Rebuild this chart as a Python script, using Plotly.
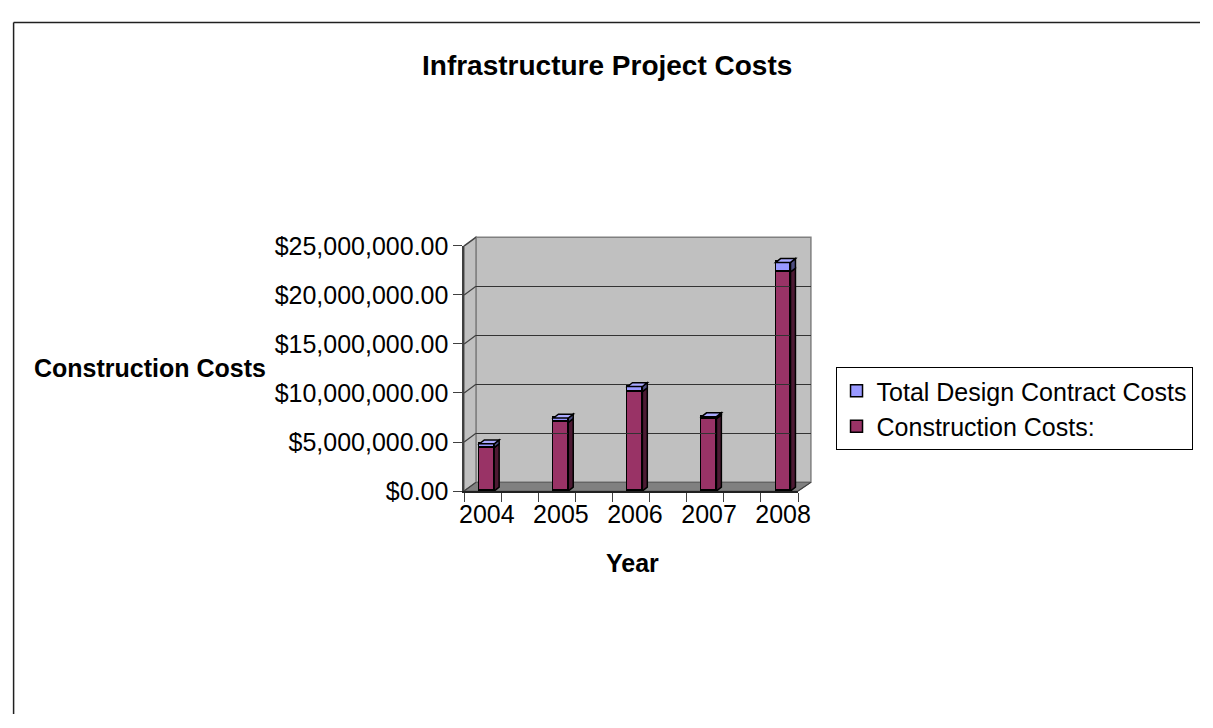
import plotly.graph_objects as go
import numpy as np

# ---------------- data ----------------
years = ["2004", "2005", "2006", "2007", "2008"]
construction_costs = [4430000, 7000000, 10140000, 7380000, 22340000]
design_costs = [390000, 450000, 520000, 200000, 980000]
y_ticks = [0, 5000000, 10000000, 15000000, 20000000, 25000000]

# page is offset by the 8px body margin; figure fills the rest of the window
OFF = 8
W, H = 1213 - OFF, 728 - OFF
FONT = "Liberation Sans, Arial, sans-serif"

# page-pixel geometry of the (pseudo-3D) plot
FX0, FX1 = 466, 805        # front plane x
FY0, FY1 = 496, 241        # front plane y (0 -> 25M)
DX, DY = 12, 9             # depth offset of back wall
BX1 = 818                  # back wall right edge
BY0 = 487                  # back wall floor line
px_per_cat = 75.2
first_center = 489
x_lo = (FX0 - first_center) / px_per_cat
x_hi = (FX1 - first_center) / px_per_cat
ymax = 25000000


def px(x):
    return (x - OFF) / W


def py(y):
    return 1 - (y - OFF) / H


xs = list(range(len(years)))
bar_w = 0.2

fig = go.Figure()
fig.add_trace(go.Bar(
    x=xs, y=construction_costs, name="Construction Costs:", width=bar_w,
    marker=dict(color="#993366", line=dict(color="black", width=1.5)),
    legendgroup="c", xaxis="x", yaxis="y", hoverinfo="y"))
fig.add_trace(go.Bar(
    x=xs, y=design_costs, name="Total Design Contract Costs", width=bar_w,
    marker=dict(color="#9999FF", line=dict(color="black", width=1.5)),
    legendgroup="d", xaxis="x", yaxis="y", hoverinfo="y"))

# invisible trace for the back-wall gridline subplot
fig.add_trace(go.Scatter(x=[0], y=[0], xaxis="x2", yaxis="y2", mode="markers",
                         marker=dict(opacity=0), showlegend=False, hoverinfo="skip"))

shapes = []
# back wall
shapes.append(dict(type="rect", xref="paper", yref="paper",
                   x0=px(FX0 + DX), x1=px(BX1), y0=py(BY0), y1=py(FY1 - DY),
                   fillcolor="#C0C0C0", line=dict(color="#808080", width=1.5), layer="below"))
# left side wall
shapes.append(dict(type="path", xref="paper", yref="paper",
                   path=f"M{px(FX0)},{py(FY0)} L{px(FX0)},{py(FY1)} L{px(FX0+DX)},{py(FY1-DY)} L{px(FX0+DX)},{py(BY0)} Z",
                   fillcolor="#C0C0C0", line=dict(color="#808080", width=1.5), layer="below"))
# floor
shapes.append(dict(type="path", xref="paper", yref="paper",
                   path=f"M{px(FX0)},{py(FY0)} L{px(FX0+DX)},{py(BY0)} L{px(BX1)},{py(BY0)} L{px(FX1)},{py(FY0)} Z",
                   fillcolor="#808080", line=dict(color="#606060", width=1), layer="below"))
# diagonal connectors from the front ticks to the back wall
for v in y_ticks:
    yy = FY0 - v / ymax * (FY0 - FY1)
    shapes.append(dict(type="line", xref="paper", yref="paper",
                       x0=px(FX0), y0=py(yy), x1=px(FX0 + DX), y1=py(yy - DY),
                       line=dict(color="#404040", width=1.2), layer="above"))
# right floor edge
shapes.append(dict(type="line", xref="paper", yref="paper",
                   x0=px(FX1), y0=py(FY0), x1=px(BX1), y1=py(BY0),
                   line=dict(color="#404040", width=1.2)))

# 3D side / top faces of the bars (data coordinates)
ddx = 5 / px_per_cat
ddy = 4 / ((FY0 - FY1) / ymax)
bottoms = [0] * len(xs)
for vals, side_col, top_col, is_top in [
        (construction_costs, "#4D1A33", "#993366", False),
        (design_costs, "#4D4D80", "#AAAAFF", True)]:
    for i, v in enumerate(vals):
        b = bottoms[i]
        t = b + v
        xr = xs[i] + bar_w / 2
        xl = xs[i] - bar_w / 2
        shapes.append(dict(type="path", xref="x", yref="y",
                           path=f"M{xr},{b} L{xr+ddx},{b+ddy} L{xr+ddx},{t+ddy} L{xr},{t} Z",
                           fillcolor=side_col, line=dict(color="black", width=1.5), layer="above"))
        if is_top:
            shapes.append(dict(type="path", xref="x", yref="y",
                               path=f"M{xl},{t} L{xl+ddx},{t+ddy} L{xr+ddx},{t+ddy} L{xr},{t} Z",
                               fillcolor=top_col, line=dict(color="black", width=1.5), layer="above"))
        bottoms[i] = t

# outer frame (as close to the window edge as the figure allows)
shapes.append(dict(type="line", xref="paper", yref="paper", x0=0.6 / W, y0=1 - 0.6 / H, x1=0.6 / W, y1=0,
                   line=dict(color="#202020", width=1.5)))
shapes.append(dict(type="line", xref="paper", yref="paper", x0=0.6 / W, y0=1 - 0.6 / H, x1=1, y1=1 - 0.6 / H,
                   line=dict(color="#202020", width=1.5)))

minor_ticks = list(np.linspace(x_lo, x_hi, 10))

fig.update_layout(
    width=W, height=H,
    margin=dict(l=0, r=0, t=0, b=0),
    paper_bgcolor="white",
    plot_bgcolor="rgba(0,0,0,0)",
    barmode="stack",
    bargap=0,
    font=dict(family=FONT, size=25, color="black"),
    showlegend=True,
    legend=dict(
        x=px(843), y=py(367), xanchor="left", yanchor="top",
        bgcolor="white", bordercolor="black", borderwidth=1,
        traceorder="reversed", tracegroupgap=19,
        font=dict(family=FONT, size=25, color="black"),
    ),
    xaxis=dict(
        domain=[px(FX0), px(FX1)], range=[x_lo, x_hi],
        tickmode="array", tickvals=xs, ticktext=years,
        ticks="", showgrid=False, zeroline=False,
        showline=True, linecolor="#202020", linewidth=1.5,
        tickfont=dict(size=25), anchor="y",
        minor=dict(tickmode="array", tickvals=minor_ticks, ticks="outside",
                   ticklen=9, tickcolor="#404040", tickwidth=1.2, showgrid=False),
    ),
    yaxis=dict(
        domain=[py(FY0), py(FY1)], range=[0, ymax],
        tickmode="array", tickvals=y_ticks, tickformat="$,.2f",
        ticks="outside", ticklen=9, tickcolor="#404040", tickwidth=1.2,
        showgrid=False, zeroline=False,
        showline=True, linecolor="#404040", linewidth=1.5,
        tickfont=dict(size=25), anchor="x",
    ),
    xaxis2=dict(domain=[px(FX0 + DX), px(BX1)], range=[0, 1], visible=False,
                anchor="y2", showgrid=False),
    yaxis2=dict(domain=[py(BY0), py(FY1 - DY)], range=[0, ymax], anchor="x2",
                tickmode="array", tickvals=y_ticks[1:-1], showticklabels=False,
                showgrid=True, gridcolor="#333333", gridwidth=1.3,
                zeroline=False, showline=False, ticks=""),
    shapes=shapes,
    annotations=[
        dict(text="<b>Infrastructure Project Costs</b>", x=px(611), y=py(53),
             xref="paper", yref="paper", xanchor="center", yanchor="middle",
             showarrow=False, font=dict(size=28)),
        dict(text="<b>Construction Costs</b>", x=px(147), y=py(368),
             xref="paper", yref="paper", xanchor="center", yanchor="middle",
             showarrow=False, font=dict(size=25)),
        dict(text="<b>Year</b>", x=px(637), y=py(571),
             xref="paper", yref="paper", xanchor="center", yanchor="middle",
             showarrow=False, font=dict(size=25)),
    ],
)

fig.write_html("out.html")
